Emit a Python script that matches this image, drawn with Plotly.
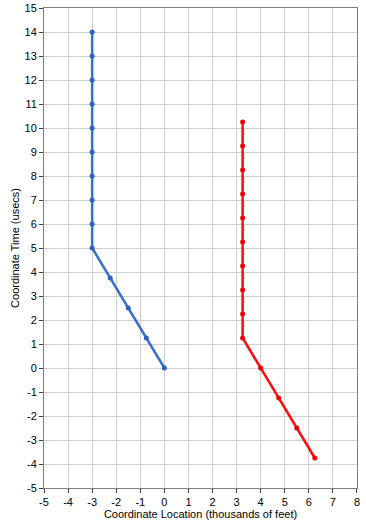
import plotly.graph_objects as go

blue_x = [0, -0.75, -1.5, -2.25, -3, -3, -3, -3, -3, -3, -3, -3, -3, -3]
blue_y = [0, 1.25, 2.5, 3.75, 5, 6, 7, 8, 9, 10, 11, 12, 13, 14]
red_x = [6.25, 5.5, 4.75, 4, 3.25, 3.25, 3.25, 3.25, 3.25, 3.25, 3.25, 3.25, 3.25, 3.25]
red_y = [-3.75, -2.5, -1.25, 0, 1.25, 2.25, 3.25, 4.25, 5.25, 6.25, 7.25, 8.25, 9.25, 10.25]
x_ticks = list(range(-5, 9))
y_ticks = list(range(-5, 16))

fig = go.Figure()
fig.add_trace(go.Scatter(x=blue_x, y=blue_y, mode="lines+markers",
                         line=dict(color="#3A6FCB", width=2.5),
                         marker=dict(color="#2F62C0", size=5, symbol="circle"),
                         showlegend=False))
fig.add_trace(go.Scatter(x=red_x, y=red_y, mode="lines+markers",
                         line=dict(color="#FF0A0A", width=2.5),
                         marker=dict(color="#F00000", size=5, symbol="circle"),
                         showlegend=False))

axis_common = dict(showgrid=True, gridcolor="#CFCFCF", gridwidth=1,
                   showline=True, linecolor="#808080", linewidth=1, mirror=True,
                   ticks="outside", ticklen=4, tickcolor="#404040",
                   zeroline=False, automargin=False,
                   tickfont=dict(size=11, color="#000000"))
fig.update_xaxes(range=[-5, 8.001], tickvals=x_ticks, ticktext=[str(v) for v in x_ticks],
                 title=dict(text="Coordinate Location (thousands of feet)", font=dict(size=11), standoff=2),
                 **axis_common)
fig.update_yaxes(range=[-5, 15.001], tickvals=y_ticks, ticktext=[str(v) for v in y_ticks],
                 title=dict(text="Coordinate Time (usecs)", font=dict(size=11), standoff=2),
                 **axis_common)
fig.update_layout(width=366, height=528, margin=dict(l=44, r=9, t=8, b=40),
                  paper_bgcolor="white", plot_bgcolor="white", hovermode=False,
                  font=dict(family="Liberation Sans, Arial, sans-serif", size=11, color="#000000"))
fig.write_html("out.html", config={"displayModeBar": False},
               post_script="document.body.style.margin='0';")
